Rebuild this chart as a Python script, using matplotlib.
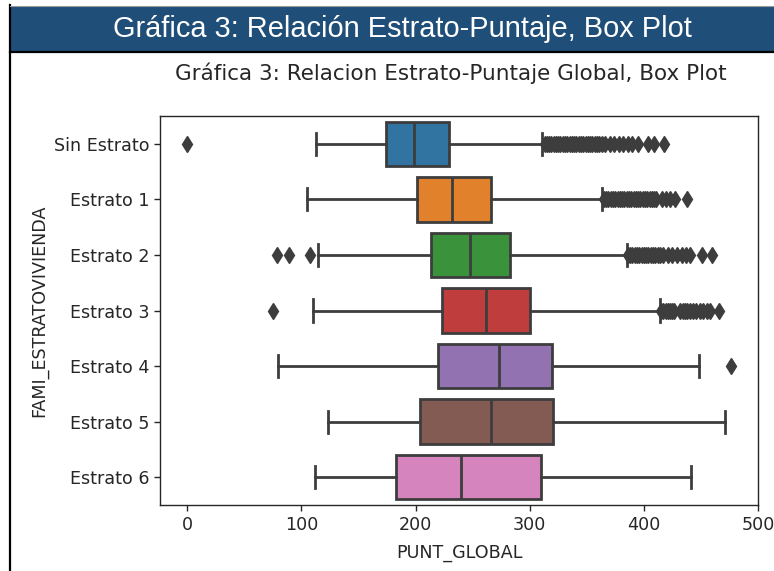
import matplotlib.pyplot as plt
from matplotlib import font_manager
from matplotlib.patches import Rectangle
from matplotlib.lines import Line2D

# Resumen por estrato de PUNT_GLOBAL (cuartiles, bigotes y atipicos)
estratos = ["Sin Estrato", "Estrato 1", "Estrato 2", "Estrato 3",
            "Estrato 4", "Estrato 5", "Estrato 6"]
bigote_inf = [113, 105, 115, 110, 79.5, 123, 112]
q1 = [174.5, 201.5, 214, 223, 220, 204, 182.5]
mediana = [198.5, 232, 248, 262, 273, 266.5, 240]
q3 = [229, 266, 282.5, 300, 319.5, 320, 309.5]
bigote_sup = [311, 363, 385, 414, 448, 471, 441.5]

atipicos_sin = [0, 313, 315, 317, 319, 321, 323, 325, 327, 329, 331, 333, 335,
                337, 339, 341, 343, 345, 347, 349, 351, 353, 355, 357, 359, 361,
                363, 366, 370, 374, 378, 382, 386, 390, 395, 404, 408.5, 418]
atipicos_e1 = [365, 367, 369, 371, 373, 375, 377, 379, 381, 383, 385, 387, 389,
               391, 393, 395, 397, 399, 401, 403, 405, 407, 409, 411, 416,
               419.5, 423, 427.5, 438]
atipicos_e2 = [79, 89, 108, 386, 388, 390, 392, 394, 396, 398, 400, 402, 404,
               406, 408, 410, 412, 414, 417, 421, 425, 429, 433, 437, 440.5,
               451, 460]
atipicos_e3 = [75, 415, 417, 419, 421, 423, 425, 426.5, 432, 434, 436, 438, 440,
               443, 446, 449, 452, 455, 458, 466]
atipicos_e4 = [476]
atipicos = [atipicos_sin, atipicos_e1, atipicos_e2, atipicos_e3,
            atipicos_e4, [], []]

colores = ["#3274a1", "#e1812c", "#3a923a", "#c03d3e",
           "#9372b2", "#845b53", "#d684bd"]
gris = "#3d3d3d"

W, H = 774, 571
fig = plt.figure(figsize=(W / 100, H / 100), dpi=100)
fig.patch.set_facecolor("white")


def fx(px):
    return px / W


def fy(py):
    return 1 - py / H


# encabezado azul del cuadro
fig.add_artist(Rectangle((fx(10), fy(51)), fx(W) - fx(10), fy(6) - fy(51),
                         transform=fig.transFigure, facecolor="#1f4e79",
                         edgecolor="none"))
fig.add_artist(Line2D([fx(10), fx(W)], [fy(52), fy(52)], transform=fig.transFigure,
                      color="black", lw=1.6))
fig.add_artist(Line2D([fx(10), fx(10)], [fy(5), fy(H)], transform=fig.transFigure,
                      color="black", lw=1.6))
fig.add_artist(Line2D([fx(10), fx(W)], [fy(5.5), fy(5.5)], transform=fig.transFigure,
                      color="#9a9a9a", lw=0.8))

nombres = {f.name for f in font_manager.fontManager.ttflist}
fuente_enc = "Liberation Sans Narrow" if "Liberation Sans Narrow" in nombres else "Liberation Sans"
enc = fig.text(fx(402), fy(29), "Gráfica 3: Relación Estrato-Puntaje, Box Plot",
               color="white", family=fuente_enc, fontsize=20, ha="center", va="center")
fig.canvas.draw()
ancho = enc.get_window_extent().width
enc.set_fontsize(20 * 578 / ancho)

ax = fig.add_axes([fx(160), fy(505), fx(758) - fx(160), fy(116) - fy(505)])

stats = []
for i in range(len(estratos)):
    stats.append(dict(label=estratos[i], whislo=bigote_inf[i], q1=q1[i],
                      med=mediana[i], q3=q3[i], whishi=bigote_sup[i],
                      fliers=atipicos[i]))

lw = 2.0
cajas = ax.bxp(stats, positions=range(len(estratos)), widths=0.8,
               orientation="horizontal", patch_artist=True,
               boxprops=dict(edgecolor=gris, linewidth=lw),
               whiskerprops=dict(color=gris, linewidth=lw),
               capprops=dict(color=gris, linewidth=lw),
               medianprops=dict(color=gris, linewidth=lw),
               flierprops=dict(marker="d", markerfacecolor=gris,
                               markeredgecolor=gris, markersize=8,
                               linestyle="none"))
for caja, c in zip(cajas["boxes"], colores):
    caja.set_facecolor(c)

ax.set_ylim(len(estratos) - 0.5, -0.5)
ax.set_yticks(range(len(estratos)))
ax.set_yticklabels(estratos)
ax.set_xticks([0, 100, 200, 300, 400, 500])
ax.tick_params(labelsize=12.6, length=4.4, width=1.0, colors="#262626")
for s in ax.spines.values():
    s.set_linewidth(1.0)
    s.set_color("#262626")
ax.set_xlabel("PUNT_GLOBAL", fontsize=12.6, color="#262626")
ax.set_ylabel("FAMI_ESTRATOVIVIENDA", fontsize=12.6, color="#262626")
ax.xaxis.set_label_coords(0.5, -0.1)
fig.text(fx(451), fy(73), "Gráfica 3: Relacion Estrato-Puntaje Global, Box Plot",
         fontsize=15.5, ha="center", va="center", color="#262626")

fig.savefig("out.png", dpi=100)
